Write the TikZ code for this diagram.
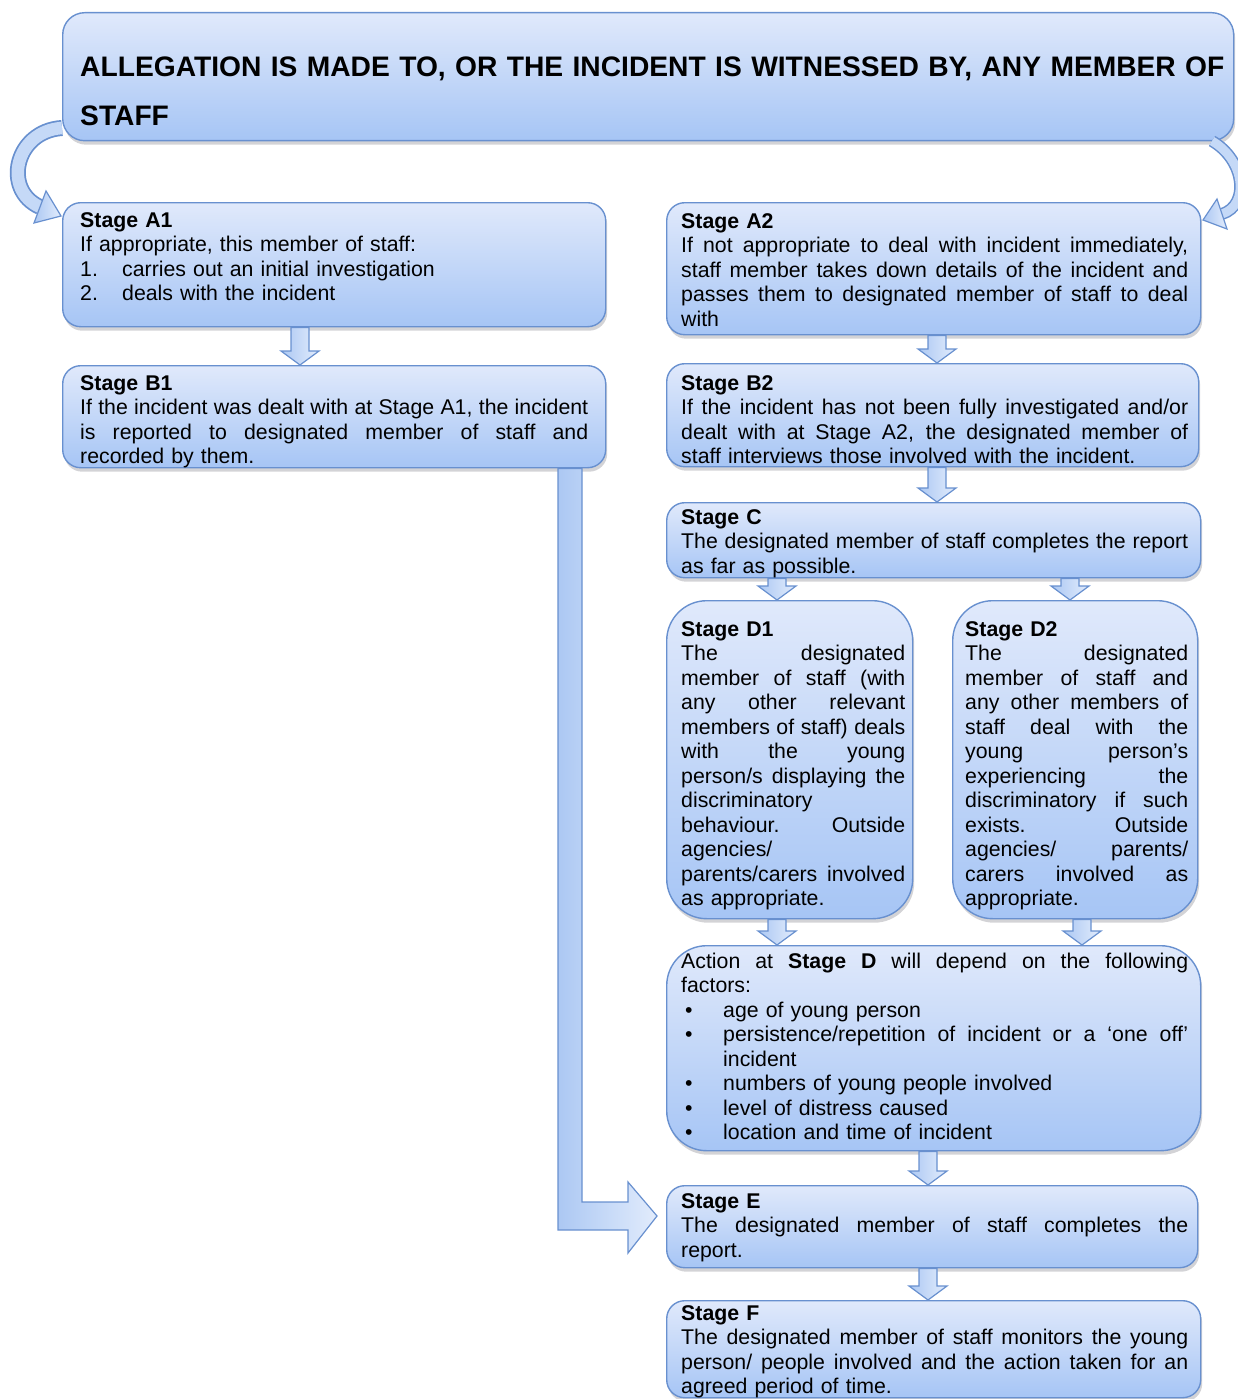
\documentclass[tikz,border=0pt]{standalone}
\usepackage{fontspec}
\setmainfont{Liberation Sans}
\usetikzlibrary{shadows,calc}
\definecolor{btop}{RGB}{224,233,251}
\definecolor{bbot}{RGB}{166,197,245}
\definecolor{bline}{RGB}{104,144,207}
\definecolor{shd}{RGB}{110,110,120}
\definecolor{arL}{RGB}{172,200,243}
\definecolor{arR}{RGB}{226,236,252}
\tikzset{
  box/.style={draw=bline, line width=1.4pt, top color=btop, bottom color=bbot,
    rounded corners=18pt, inner sep=0pt, anchor=north west,
    drop shadow={shadow xshift=1.5pt, shadow yshift=-4pt, opacity=0.3, fill=shd}},
  txt/.style={anchor=base west, inner sep=0pt, align=left,
    font=\fontsize{21.3}{24.5}\selectfont},
  barrow/.style={draw=bline, line width=1.2pt, left color=arL, right color=arR},
  bandout/.style={draw=bline, line width=16pt},
  bandin/.style={draw=arL!70!white, line width=12.5pt},
}
\newcommand\J[2][507pt]{\hbox to #1{\spaceskip=0.278em plus 1fil\relax\xspaceskip=\spaceskip #2}\par}
\newcommand\vbarrow[3]{%
  \path (#1.south -| #3,0) coordinate (vbS) (#2.north -| #3,0) coordinate (vbE);
  \draw[barrow] ($(vbS)+(-9pt,0pt)$) -- ($(vbS)+(9pt,0pt)$) -- ($(vbE)+(9pt,14pt)$)
    -- ($(vbE)+(19pt,14pt)$) -- (vbE) -- ($(vbE)+(-19pt,14pt)$)
    -- ($(vbE)+(-9pt,14pt)$) -- cycle;}
\begin{document}
\begin{tikzpicture}[x=1pt,y=-1pt]
\useasboundingbox (0,0) rectangle (1238,1399);

% boxes
\node[box, rounded corners=22pt, minimum width=1171pt, minimum height=128pt] (top) at (62,12) {};
\node[box, minimum width=543pt, minimum height=124pt] (a1) at (62,202) {};
\node[box, minimum width=543pt, minimum height=102pt] (b1) at (62,365) {};
\node[box, minimum width=534pt, minimum height=132pt] (a2) at (666,202) {};
\node[box, minimum width=532pt, minimum height=103pt] (b2) at (666,363) {};
\node[box, minimum width=534pt, minimum height=75pt] (c) at (666,502) {};
\node[box, rounded corners=40pt, minimum width=246pt, minimum height=318pt] (d1) at (666,600) {};
\node[box, rounded corners=40pt, minimum width=245pt, minimum height=318pt] (d2) at (952,600) {};
\node[box, rounded corners=40pt, minimum width=534pt, minimum height=205pt] (dd) at (666,945) {};
\node[box, minimum width=531pt, minimum height=82pt] (e) at (666,1185) {};
\node[box, minimum width=534pt, minimum height=97pt] (f) at (666,1300) {};

% curved arrows from the top box
\draw[bandout] (top.west |- 0,128) .. controls (15,131) and (2,190) .. (40,207);
\draw[bandin] (top.west |- 0,128) .. controls (15,131) and (2,190) .. (40,207);
\draw[barrow] (34,223) -- (61,216) -- (46,191) -- cycle;
\draw[draw=bline, line width=12pt] (1212,141) .. controls (1245,160) and (1250,205) .. (1222,214);
\draw[draw=arL!70!white, line width=9pt] (1212,141) .. controls (1245,160) and (1250,205) .. (1222,214);
\draw[barrow] (1227,229) -- (1203,220) -- (1217,199) -- cycle;

% straight block arrows
\vbarrow{a1}{b1}{300}
\vbarrow{a2}{b2}{937}
\vbarrow{b2}{c}{937}
\vbarrow{c}{d1}{777}
\vbarrow{c}{d2}{1070}
\vbarrow{d1}{dd}{777}
\vbarrow{d2}{dd}{1082}
\vbarrow{dd}{e}{928}
\vbarrow{e}{f}{928}

% L-shaped arrow from B1 to E
\draw[barrow] (b1.south -| 558,0) -- (b1.south -| 582,0) -- (582,1202) -- (628,1202)
  -- (628,1182) -- (657,1216) -- (628,1253) -- (628,1230) -- (558,1230) -- cycle;

% texts
\node[txt, text width=1160pt, font=\fontsize{28.2}{49}\selectfont\bfseries] (ttop) at (80,77)
  {\mbox{ALLEGATION IS MADE TO, OR THE INCIDENT IS WITNESSED BY, ANY MEMBER OF}\par STAFF};
\node[txt, text width=508pt] (ta1) at (80,227)
  {\textbf{Stage A1}\par If appropriate, this member of staff:\par
   \makebox[42pt][l]{1.}carries out an initial investigation\par
   \makebox[42pt][l]{2.}deals with the incident};
\node[txt, text width=508pt] (tb1) at (80,390)
  {\textbf{Stage B1}\par
   \J[508pt]{If the incident was dealt with at Stage A1, the incident}
   \J[508pt]{is reported to designated member of staff and}
   recorded by them.};
\node[txt, text width=507pt] (ta2) at (681,228)
  {\textbf{Stage A2}\par
   \J{If not appropriate to deal with incident immediately,}
   \J{staff member takes down details of the incident and}
   \J{passes them to designated member of staff to deal}
   with};
\node[txt, text width=507pt] (tb2) at (681,390)
  {\textbf{Stage B2}\par
   \J{If the incident has not been fully investigated and/or}
   \J{dealt with at Stage A2, the designated member of}
   staff interviews those involved with the incident.};
\node[txt, text width=507pt] (tc) at (681,524)
  {\textbf{Stage C}\par
   \J{The designated member of staff completes the report}
   as far as possible.};
\node[txt, text width=224pt] (td1) at (681,636)
  {\textbf{Stage D1}\par
   \J[224pt]{The designated}
   \J[224pt]{member of staff (with}
   \J[224pt]{any other relevant}
   \J[224pt]{members of staff) deals}
   \J[224pt]{with the young}
   \J[224pt]{person/s displaying the}
   discriminatory\par
   \J[224pt]{behaviour. Outside}
   agencies/\par
   \J[224pt]{parents/carers involved}
   as appropriate.};
\node[txt, text width=223pt] (td2) at (965,636)
  {\textbf{Stage D2}\par
   \J[223pt]{The designated}
   \J[223pt]{member of staff and}
   \J[223pt]{any other members of}
   \J[223pt]{staff deal with the}
   \J[223pt]{young person’s}
   \J[223pt]{experiencing the}
   \J[223pt]{discriminatory if such}
   \J[223pt]{exists. Outside}
   \J[223pt]{agencies/ parents/}
   \J[223pt]{carers involved as}
   appropriate.};
\node[txt, text width=507pt] (tdd) at (681,968)
  {\J{Action at \textbf{Stage D} will depend on the following}
   factors:\par
   \makebox[42pt][l]{\hspace{4pt}•}age of young person\par
   \hbox{\hbox to 42pt{\hspace{4pt}•\hfil}\hbox to 465pt{\spaceskip=0.278em plus 1fil\relax persistence/repetition of incident or a ‘one off’}}\par
   \hspace*{42pt}incident\par
   \makebox[42pt][l]{\hspace{4pt}•}numbers of young people involved\par
   \makebox[42pt][l]{\hspace{4pt}•}level of distress caused\par
   \makebox[42pt][l]{\hspace{4pt}•}location and time of incident};
\node[txt, text width=507pt] (te) at (681,1208)
  {\textbf{Stage E}\par
   \J{The designated member of staff completes the}
   report.};
\node[txt, text width=507pt] (tf) at (681,1320)
  {\textbf{Stage F}\par
   \J{The designated member of staff monitors the young}
   \J{person/ people involved and the action taken for an}
   agreed period of time.};
\end{tikzpicture}
\end{document}
